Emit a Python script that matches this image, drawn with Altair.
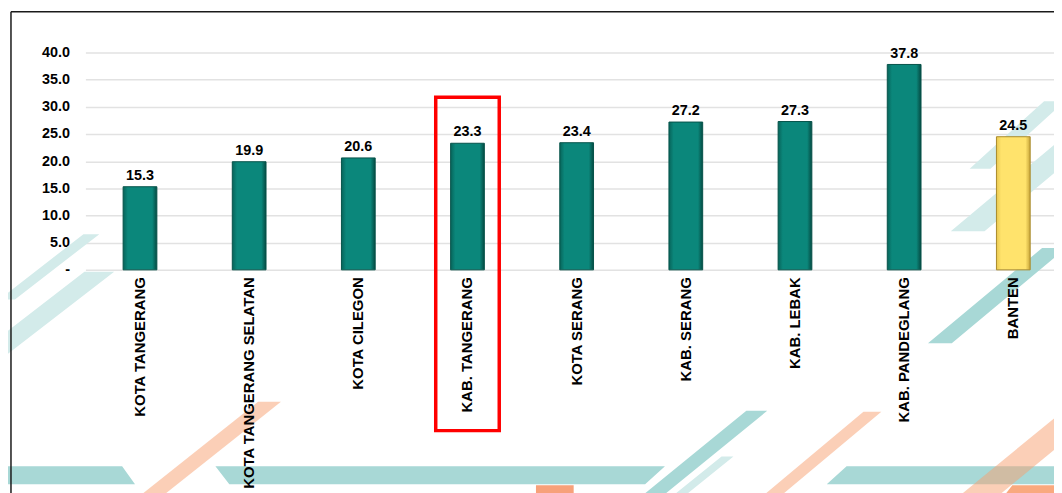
import altair as alt
import pandas as pd

categories = ["KOTA TANGERANG", "KOTA TANGERANG SELATAN", "KOTA CILEGON",
              "KAB. TANGERANG", "KOTA SERANG", "KAB. SERANG", "KAB. LEBAK",
              "KAB. PANDEGLANG", "BANTEN"]
values = [15.3, 19.9, 20.6, 23.3, 23.4, 27.2, 27.3, 37.8, 24.5]
group = ["kab"] * 8 + ["prov"]
highlight = "KAB. TANGERANG"

df = pd.DataFrame({"cat": categories, "val": values, "grp": group})
FONT = "Liberation Sans"
OX, OY = 86, 51  # plot origin on the page, used only for slide decorations
one = pd.DataFrame({"k": [0]})

# ---------- slide background decorations (page pixels) ----------
LIGHT, BAND, SALMON = "#d3ebea", "#a8d8d6", "#f8a070"
shapes = [  # top_y, top_x0, top_x1, bottom_y, bottom_x0, bottom_x1, colour, opacity
    (468, 0, 123, 486, 0, 136, BAND, 1),
    (468, 217, 670, 486, 231, 650, BAND, 1),
    (468, 853, 1090, 486, 833, 1090, BAND, 1),
    (234, 84, 100, 300, -1, 15, LIGHT, 1),
    (272, 85, 115, 380, -55, -25, LIGHT, 1),
    (100, 1052, 1073, 168, 977, 998, LIGHT, 1),
    (140, 1067, 1101, 231, 958, 992, LIGHT, 1),
    (248, 1050, 1074, 344, 935, 959, BAND, 1),
    (412, 752, 773, 500, 644, 665, BAND, 1),
    (458, 727, 739, 500, 675, 687, LIGHT, 1),
    (403, 260, 283, 500, 138, 161, SALMON, 0.5),
    (413, 870, 888, 500, 766, 784, SALMON, 0.5),
    (400, 1086, 1125, 500, 964, 1003, SALMON, 0.5),
    (487, 1020, 1090, 500, 1010, 1090, SALMON, 0.9),
    (487, 540, 578, 500, 540, 578, "#f7a17a", 1),
]
groups = {}
for ty, tx0, tx1, by, bx0, bx1, col, op in shapes:
    p = (f"M{tx0 - OX},{ty - OY}L{tx1 - OX},{ty - OY}"
         f"L{bx1 - OX},{by - OY}L{bx0 - OX},{by - OY}Z")
    groups.setdefault((col, op), []).append(p)

deco_layers = [
    alt.Chart(one).mark_point(shape="".join(paths), size=4, filled=True, fill=col,
                              fillOpacity=op, opacity=1, strokeWidth=0).encode(
        x=alt.value(0), y=alt.value(0))
    for (col, op), paths in groups.items()
]

# ---------- the chart itself ----------
x_enc = alt.X("cat:N", sort=categories,
              scale=alt.Scale(range=[0, 990], paddingInner=0.69, paddingOuter=0.345),
              axis=alt.Axis(title=None, orient="bottom", labelAngle=270, labelPadding=7,
                            ticks=False, domain=False, labelFont=FONT, labelFontSize=15,
                            labelFontWeight="bold", labelColor="#000000", zindex=1,
                            labelLimit=400, labelOverlap=False))
y_enc = alt.Y("val:Q", scale=alt.Scale(domain=[0, 40], nice=False),
              axis=alt.Axis(title=None, orient="left", values=[0, 5, 10, 15, 20, 25, 30, 35, 40],
                            labelExpr="datum.value == 0 ? '-\u00a0\u00a0' : format(datum.value, '.1f')",
                            labelPadding=16, ticks=False, domain=False, labelOverlap=False,
                            labelFont=FONT, labelFontSize=14.5, labelFontWeight="bold",
                            labelColor="#000000", grid=True, gridColor="#e2e2e2",
                            gridWidth=1.5))

teal = alt.Gradient(gradient="linear", x1=0, x2=1, y1=0, y2=0, stops=[
    alt.GradientStop(offset=0, color="#07645a"),
    alt.GradientStop(offset=0.14, color="#0b877b"),
    alt.GradientStop(offset=0.86, color="#0b877b"),
    alt.GradientStop(offset=1, color="#054a42")])
yellow = alt.Gradient(gradient="linear", x1=0, x2=1, y1=0, y2=0, stops=[
    alt.GradientStop(offset=0, color="#e8c850"),
    alt.GradientStop(offset=0.14, color="#ffe36c"),
    alt.GradientStop(offset=0.86, color="#ffe36c"),
    alt.GradientStop(offset=1, color="#c9a73a")])

base = alt.Chart(df)

bars_teal = base.transform_filter(alt.datum.grp == "kab").mark_bar(
    size=34, color=teal, stroke="#06534a", strokeWidth=1
).encode(x=x_enc, y=y_enc)

bars_yellow = base.transform_filter(alt.datum.grp == "prov").mark_bar(
    size=34, color=yellow, stroke="#a88a2a", strokeWidth=1
).encode(x=x_enc, y=y_enc)

labels = base.mark_text(baseline="alphabetic", dy=-7, font=FONT, fontSize=14.5,
                        fontWeight="bold", color="#000000").encode(
    x=x_enc, y=y_enc, text=alt.Text("val:Q", format=".1f"))

box = base.transform_filter(alt.datum.cat == highlight).mark_bar(
    size=64, fillOpacity=0, stroke="#ff0000", strokeWidth=3.5
).encode(x=x_enc, y=alt.value(45), y2=alt.value(381))

frame_left = alt.Chart(one).mark_rule(color="#1a1a1a", strokeWidth=1.5).encode(
    x=alt.value(11 - OX), y=alt.value(10 - OY), y2=alt.value(500 - OY))
frame_top = alt.Chart(one).mark_rule(color="#1a1a1a", strokeWidth=1.5).encode(
    x=alt.value(11 - OX), x2=alt.value(1080 - OX), y=alt.value(10 - OY))

chart = alt.layer(*deco_layers, bars_teal, bars_yellow, labels, box,
                  frame_left, frame_top).properties(
    width=976, height=219,
    autosize=alt.AutoSizeParams(type="none"),
    padding={"left": 78, "top": 43, "right": 0, "bottom": 223},
    background="#ffffff"
).configure_view(stroke=None).configure_axis(labelOverlap=False)

chart.save("out.html", embed_options={"renderer": "svg", "actions": False})
